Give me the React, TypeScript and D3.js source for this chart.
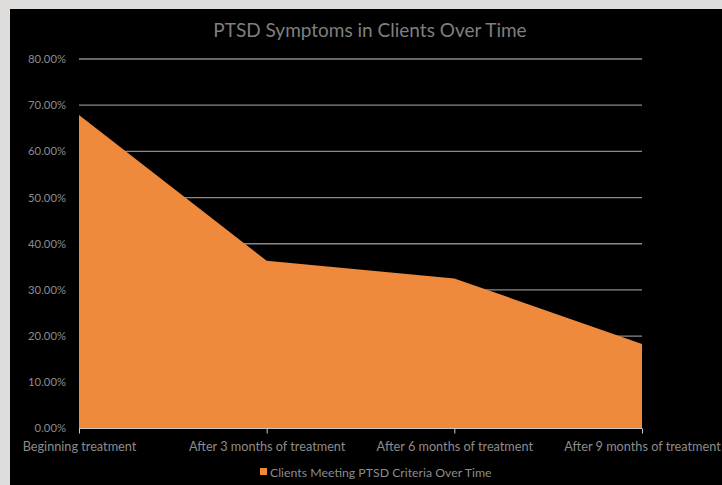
import React, {useRef, useEffect} from "react"
import * as d3 from "d3"

const categories = ["Beginning treatment", "After 3 months of treatment", "After 6 months of treatment", "After 9 months of treatment"]
const values = [0.679, 0.363, 0.325, 0.183]
const yTicks = [0, 0.1, 0.2, 0.3, 0.4, 0.5, 0.6, 0.7, 0.8]
const seriesName = "Clients Meeting PTSD Criteria Over Time"
const title = "PTSD Symptoms in Clients Over Time"

const W = 722, H = 485

const App = () => {
    let element = useRef<SVGSVGElement>(null)

    useEffect(() => {
        const svg = d3.select(element.current)
        svg.selectAll("*").remove()

        const font = "Lato, 'Open Sans', sans-serif"
        const textColor = "#8c8c8c"

        // textured frame + black panel
        svg.append("rect").attr("width", W).attr("height", H).attr("fill", "#dedddb")
        svg.append("rect").attr("x", 10).attr("y", 9).attr("width", W - 10).attr("height", H - 9).attr("fill", "#000")

        let margin = {left: 79, right: 80, top: 59, bottom: 56.5}
        let x = d3.scalePoint<string>()
            .domain(categories)
            .range([margin.left, W - margin.right])
        let y = d3.scaleLinear()
            .domain([0, 0.8])
            .range([H - margin.bottom, margin.top])

        // gridlines
        svg.append("g")
            .selectAll("line")
            .data(yTicks.filter(d => d > 0))
            .enter()
            .append("line")
              .attr("x1", margin.left).attr("x2", W - margin.right)
              .attr("y1", d => y(d)).attr("y2", d => y(d))
              .attr("stroke", "#8a8a8a").attr("stroke-width", 1.3)

        // area
        let area = d3.area<number>()
            .x((d, i) => x(categories[i])!)
            .y0(y(0))
            .y1(d => y(d))
        svg.append("path")
            .datum(values)
            .attr("d", area)
            .attr("fill", "#EF8A3D")

        // y labels
        svg.append("g")
            .selectAll("text")
            .data(yTicks)
            .enter()
            .append("text")
              .attr("x", 66)
              .attr("y", d => y(d))
              .attr("dy", "0.35em")
              .attr("text-anchor", "end")
              .attr("font-family", font)
              .attr("font-size", 11.3)
              .attr("fill", textColor)
              .text(d => d3.format(".2%")(d))

        // x axis
        let xAxis = svg.append("g")
            .attr("transform", "translate(0," + y(0) + ")")
            .call(d3.axisBottom(x).tickSize(5).tickPadding(8))
        xAxis.select(".domain").attr("stroke", "#c8c8c8").attr("d", "M" + margin.left + ",0H" + (W - margin.right))
        xAxis.selectAll(".tick line").attr("stroke", "#c8c8c8")
        xAxis.selectAll(".tick text")
            .attr("font-family", font)
            .attr("font-size", 12.7)
            .attr("fill", textColor)

        // title
        svg.append("text")
            .attr("x", 370).attr("y", 37)
            .attr("text-anchor", "middle")
            .attr("font-family", font)
            .attr("font-size", 19)
            .attr("fill", "#7f7f7f")
            .text(title)

        // legend
        svg.append("rect").attr("x", 260).attr("y", 468).attr("width", 7).attr("height", 7).attr("fill", "#EF8A3D")
        svg.append("text")
            .attr("x", 270).attr("y", 476.5)
            .attr("font-family", font)
            .attr("font-size", 12.3)
            .attr("fill", textColor)
            .text(seriesName)
    })

    return (
        <div style={{position: "absolute", left: 0, top: 0}}>
            <svg ref={element} width={W} height={H}></svg>
        </div>
    )
}

export default App
